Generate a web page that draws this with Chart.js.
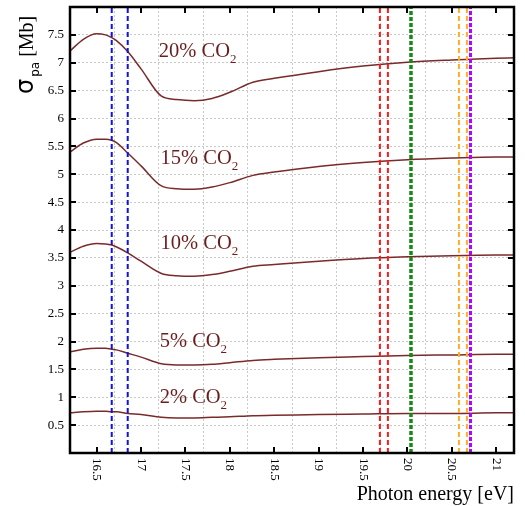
<!DOCTYPE html>
<html lang="en">
<head>
  <meta charset="UTF-8">
  <title>Photoabsorption cross section</title>
  <script src="https://cdn.jsdelivr.net/npm/chart.js"></script>
  <style>
    body {
      margin: 0;
      background: #ffffff;
    }

    canvas {
      display: block;
    }
  </style>
</head>
<body>

  <canvas id="sigmaChart" width="525" height="506"></canvas>

  <script>
    const energy = [16.2, 16.35, 16.5, 16.6, 16.67, 16.72, 16.85, 17.0, 17.23, 17.4, 17.6, 17.8, 18.0, 18.26, 18.5, 19.0, 19.5, 20.0, 20.5, 21.0, 21.2];
    const co2_20 = [7.21, 7.42, 7.52, 7.50, 7.45, 7.40, 7.20, 6.89, 6.40, 6.34, 6.32, 6.36, 6.47, 6.65, 6.72, 6.84, 6.94, 7.01, 7.05, 7.08, 7.09];
    const co2_15 = [5.40, 5.56, 5.63, 5.63, 5.61, 5.57, 5.38, 5.15, 4.79, 4.74, 4.73, 4.77, 4.85, 4.98, 5.04, 5.14, 5.21, 5.26, 5.29, 5.31, 5.31];
    const co2_10 = [3.60, 3.71, 3.76, 3.75, 3.73, 3.70, 3.59, 3.44, 3.22, 3.18, 3.17, 3.20, 3.26, 3.35, 3.38, 3.44, 3.49, 3.52, 3.54, 3.55, 3.55];
    const co2_5 = [1.81, 1.86, 1.88, 1.88, 1.86, 1.85, 1.79, 1.72, 1.60, 1.58, 1.58, 1.59, 1.62, 1.66, 1.68, 1.71, 1.73, 1.75, 1.76, 1.77, 1.77];
    const co2_2 = [0.72, 0.74, 0.75, 0.75, 0.74, 0.74, 0.71, 0.69, 0.64, 0.63, 0.63, 0.64, 0.65, 0.67, 0.675, 0.69, 0.70, 0.71, 0.71, 0.72, 0.72];

    // vertical marker lines (eV)
    const blueLines = [16.67, 16.85];
    const redLines = [19.69, 19.78];
    const greenLines = [20.04];
    const orangeLines = [20.58, 20.67];
    const purpleLines = [20.71];

    const xTicks = [16.5, 17, 17.5, 18, 18.5, 19, 19.5, 20, 20.5, 21];
    const yTicks = [0.5, 1, 1.5, 2, 2.5, 3, 3.5, 4, 4.5, 5, 5.5, 6, 6.5, 7, 7.5];

    const curveNames = ['20%', '15%', '10%', '5%', '2%'];
    const curves = [co2_20, co2_15, co2_10, co2_5, co2_2];
    // where each "xx% CO2" caption sits, in data units
    const captionAt = [[17.2, 7.10], [17.22, 5.19], [17.22, 3.66], [17.21, 1.90], [17.21, 0.90]];

    const serif = "'Liberation Serif', 'DejaVu Serif', serif";
    const curveColor = '#7a2a2a';
    const textColor = '#6b1c1c';

    function toPoints(ys) {
      return energy.map((e, i) => ({ x: e, y: ys[i] }));
    }

    function markerSets(list, color, width, dash) {
      return list.map(e => ({
        data: [{ x: e, y: 0 }, { x: e, y: 8 }],
        borderColor: color,
        borderWidth: width,
        borderDash: dash,
        pointRadius: 0,
        fill: false,
        order: 0
      }));
    }

    const datasets = [
      ...curves.map((c, i) => ({
        label: curveNames[i] + ' CO2',
        data: toPoints(c),
        borderColor: curveColor,
        borderWidth: 1.5,
        pointRadius: 0,
        cubicInterpolationMode: 'monotone',
        fill: false,
        order: 1
      })),
      ...markerSets(blueLines, '#1010ee', 2, [5, 3]),
      ...markerSets(redLines, '#ff1a1a', 2, [5, 3]),
      ...markerSets(greenLines, '#138a13', 3.5, [4, 2]),
      ...markerSets(orangeLines, '#ffb020', 2, [5, 3]),
      ...markerSets(purpleLines, '#b400ff', 3, [4, 2])
    ];

    const framePlugin = {
      id: 'frame',
      afterDraw(chart) {
        const { ctx, chartArea: a, scales: { x, y } } = chart;
        ctx.save();

        // inward tick marks on all four sides
        ctx.strokeStyle = '#000';
        ctx.lineWidth = 2;
        ctx.beginPath();
        xTicks.forEach(v => {
          const px = Math.round(x.getPixelForValue(v));
          ctx.moveTo(px, a.bottom); ctx.lineTo(px, a.bottom - 6);
          ctx.moveTo(px, a.top); ctx.lineTo(px, a.top + 6);
        });
        yTicks.forEach(v => {
          const py = Math.round(y.getPixelForValue(v));
          ctx.moveTo(a.left, py); ctx.lineTo(a.left + 6, py);
          ctx.moveTo(a.right, py); ctx.lineTo(a.right - 6, py);
        });
        ctx.stroke();
        ctx.lineWidth = 2.5;
        ctx.strokeRect(a.left, a.top, a.right - a.left, a.bottom - a.top);

        // y tick labels
        ctx.fillStyle = '#000';
        ctx.font = '13px ' + serif;
        ctx.textAlign = 'right';
        ctx.textBaseline = 'middle';
        yTicks.forEach(v => {
          ctx.fillText(String(v), a.left - 6, y.getPixelForValue(v));
        });

        // x tick labels, turned to read downwards
        ctx.textAlign = 'left';
        xTicks.forEach(v => {
          ctx.save();
          ctx.translate(x.getPixelForValue(v), a.bottom + 5);
          ctx.rotate(Math.PI / 2);
          ctx.fillText(String(v), 0, 0);
          ctx.restore();
        });

        // axis titles
        ctx.font = '20px ' + serif;
        ctx.textAlign = 'right';
        ctx.textBaseline = 'alphabetic';
        ctx.fillText('Photon energy [eV]', a.right, 500);

        ctx.save();
        ctx.translate(33, 94);
        ctx.rotate(-Math.PI / 2);
        ctx.textAlign = 'left';
        ctx.font = "24px 'DejaVu Sans', sans-serif";
        ctx.fillText('σ', 0, 0);
        let pos = ctx.measureText('σ').width + 2;
        ctx.font = "12px 'DejaVu Sans', sans-serif";
        ctx.fillText('pa', pos, 6);
        pos += ctx.measureText('pa').width + 5;
        ctx.font = '20px ' + serif;
        ctx.fillText('[Mb]', pos, 0);
        ctx.restore();

        // curve captions
        ctx.fillStyle = textColor;
        ctx.textAlign = 'left';
        captionAt.forEach((p, i) => {
          const cx = x.getPixelForValue(p[0]);
          const cy = y.getPixelForValue(p[1]);
          ctx.font = '20.5px ' + serif;
          const main = curveNames[i] + ' CO';
          ctx.fillText(main, cx, cy);
          const w = ctx.measureText(main).width;
          ctx.font = '13px ' + serif;
          ctx.fillText('2', cx + w, cy + 6);
        });

        ctx.restore();
      }
    };

    const ctx = document.getElementById('sigmaChart').getContext('2d');

    new Chart(ctx, {
      type: 'line',
      data: { datasets: datasets },
      options: {
        responsive: false,
        animation: false,
        layout: {
          padding: { left: 70, top: 7, right: 11, bottom: 53 }
        },
        plugins: {
          legend: { display: false },
          tooltip: { enabled: false }
        },
        scales: {
          x: {
            type: 'linear',
            min: 16.2,
            max: 21.2,
            ticks: { display: false, stepSize: 0.5 },
            grid: { color: '#c8c8c8', lineWidth: 1, drawTicks: false },
            border: { display: false, dash: [2, 2] }
          },
          y: {
            type: 'linear',
            min: 0,
            max: 8,
            ticks: { display: false, stepSize: 0.5 },
            grid: { color: '#c8c8c8', lineWidth: 1, drawTicks: false },
            border: { display: false, dash: [2, 2] }
          }
        }
      },
      plugins: [framePlugin]
    });
  </script>

</body>
</html>
